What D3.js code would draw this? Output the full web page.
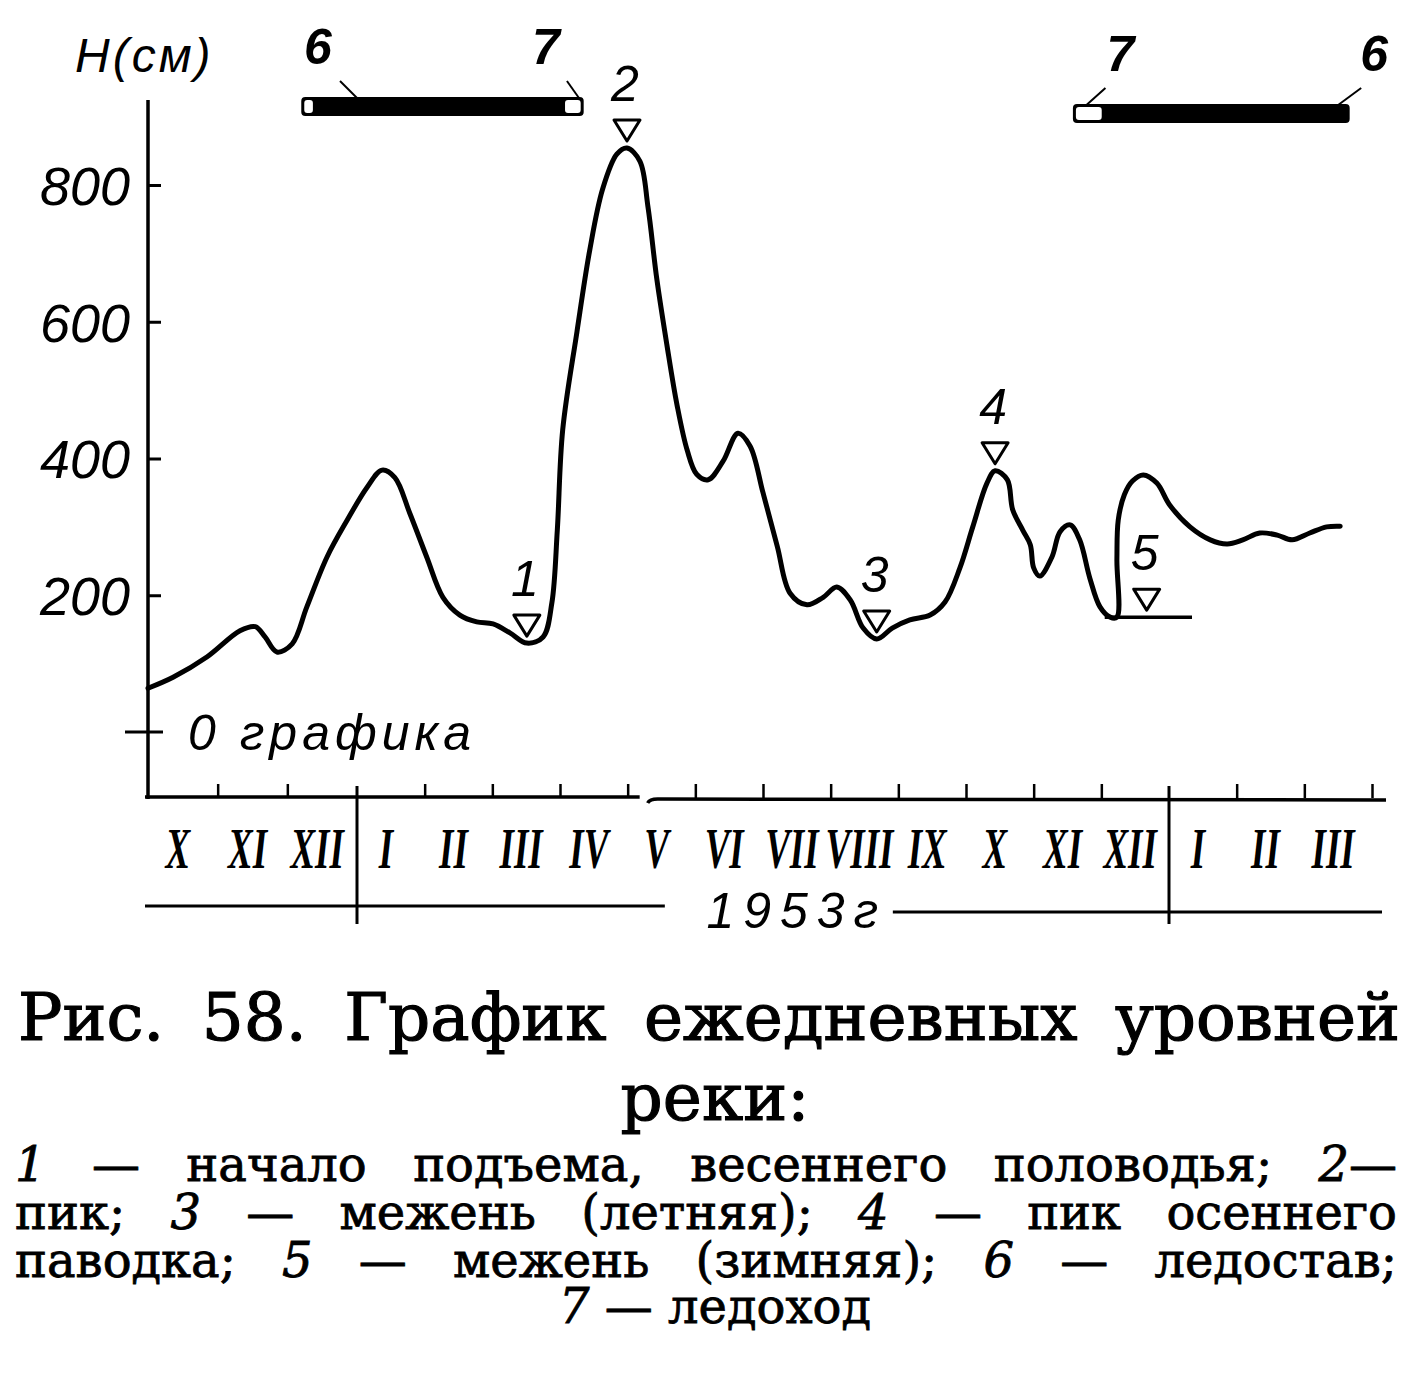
<!DOCTYPE html>
<html><head><meta charset="utf-8">
<script src="https://cdn.jsdelivr.net/npm/d3@7"></script>
<style>body{margin:0;background:#fff} svg{display:block;background:#fff}</style>
</head><body><svg id="c" width="1412" height="1383"></svg>
<script>
// ---------------- DATA ----------------
const monthLabels = ["X","XI","XII","I","II","III","IV","V","VI","VII","VIII","IX","X","XI","XII","I","II","III"];
const yearLabel = "1953г";
const yTickValues = [200, 400, 600, 800];
const yAxisTitle = "H(см)";
const zeroLabel = "0 графика";
// level curve: months since 1 Oct 1952, water level in cm
const levelMonths = [0,0.36,0.85,1.32,1.54,1.68,1.85,2.07,2.28,2.57,
  2.86,3.15,3.37,3.56,3.78,4.03,4.27,4.52,4.77,5.01,
  5.26,5.51,5.75,5.88,5.96,6.04,6.25,6.44,6.63,6.84,
  6.99,7.18,7.30,7.43,7.58,7.73,7.88,8.02,8.19,8.41,
  8.63,8.81,9.0,9.21,9.40,9.65,9.89,10.09,10.29,10.48,
  10.68,10.91,11.17,11.47,11.69,11.91,12.10,12.31,12.43,12.61,
  12.69,12.84,12.95,13.00,13.09,13.27,13.39,13.54,13.68,13.83,
  13.98,14.13,14.23,14.23,14.25,14.34,14.46,14.62,14.82,15.01,
  15.31,15.61,15.86,16.09,16.34,16.60,16.82,17.08,17.33,17.53];
const levelCm = [64,80,110,148,154,139,117,129,183,256,
  310,358,383,372,320,256,197,171,161,158,
  145,130,139,189,295,442,585,705,794,845,
  854,835,768,663,566,478,412,377,369,396,
  437,418,350,272,203,186,197,212,193,152,
  136,152,164,171,190,240,300,364,382,369,
  325,295,274,240,228,256,293,303,281,225,
  183,168,168,252,310,347,367,376,364,332,
  300,281,275,281,291,288,281,291,300,301];
// characteristic points
const markerIds = ["1","2","3","4","5"];
const markerMonths = [5.51, 6.99, 10.68, 12.43, 14.67];
const markerCm = [130, 854, 136, 382, 168];
// winter low-water level line
const winterLowCm = 168;
const winterLowSpan = [14.05, 15.34];
// ice phenomena (months), per winter season (0 = 1952-53, 1 = 1953-54)
const iceDriftStart = [2.20, 6.03, 13.58];
const iceDriftEnd   = [2.41, 6.35, 14.05];
const iceDriftSeason = [0, 0, 1];
const iceCoverStart = [2.41, 14.05];
const iceCoverEnd   = [6.03, 17.67];
const iceCoverSeason = [0, 1];
const iceNoteIds = ["6", "7", "7", "6"];
const iceNoteMonths = [3.0, 6.28, 13.78, 17.5];
const iceNoteSeason = [0, 0, 1, 1];

const captionTitle = ["Рис.", "58.", "График", "ежедневных", "уровней"];
const captionTitle2 = "реки:";
const legendLines = [
  [[["1",1]],[["—",0]],[["начало",0]],[["подъема,",0]],[["весеннего",0]],[["половодья;",0]],[["2",1],["—",0]]],
  [[["пик;",0]],[["3",1]],[["—",0]],[["межень",0]],[["(летняя);",0]],[["4",1]],[["—",0]],[["пик",0]],[["осеннего",0]]],
  [[["паводка;",0]],[["5",1]],[["—",0]],[["межень",0]],[["(зимняя);",0]],[["6",1]],[["—",0]],[["ледостав;",0]]]
];
const legendLast = [["7",1],[" — ледоход",0]];

// ---------------- DRAW ----------------
const svg = d3.select("#c");
const HAND = "'Liberation Sans','DejaVu Sans',sans-serif";
const SERIF = "'Liberation Serif','DejaVu Serif',serif";
const BOOK = "'DejaVu Serif','Liberation Serif',serif";

const x = d3.scaleLinear().domain([0, 3, 15, 18]).range([148, 357, 1169, 1372]);
const y = d3.scaleLinear().domain([0, 800]).range([732, 185]);
const axisY = 798;

// y axis line
svg.append("line").attr("x1", x(0)).attr("x2", x(0)).attr("y1", 100).attr("y2", axisY + 1)
  .attr("stroke", "#000").attr("stroke-width", 3.5);

const yAxis = d3.axisLeft(y).tickValues(yTickValues).tickSizeInner(-13).tickSizeOuter(0)
  .tickPadding(18).tickFormat(d3.format("d"));
const gy = svg.append("g").attr("transform", `translate(${x(0)},0)`).call(yAxis);
gy.select(".domain").remove();
gy.selectAll(".tick line").attr("stroke", "#000").attr("stroke-width", 3);
gy.selectAll(".tick text").attr("font-family", HAND).attr("font-style", "italic")
  .attr("font-size", 54).attr("fill", "#000").attr("dy", "0.36em");

// zero tick crossing axis
svg.append("line").attr("x1", x(0) - 23).attr("x2", x(0) + 15).attr("y1", y(0)).attr("y2", y(0))
  .attr("stroke", "#000").attr("stroke-width", 3);
svg.append("text").attr("x", x(0) + 40).attr("y", y(0) + 18).text(zeroLabel)
  .attr("font-family", HAND).attr("font-style", "italic").attr("font-size", 50)
  .attr("letter-spacing", 5).attr("fill", "#000");

svg.append("text").attr("x", 75).attr("y", 72).text(yAxisTitle)
  .attr("font-family", HAND).attr("font-style", "italic").attr("font-size", 48)
  .attr("letter-spacing", 3).attr("fill", "#000");

// x axis line (with small break between IV and V)
svg.append("line").attr("x1", x(0) - 3).attr("x2", x(7) + 12).attr("y1", axisY - 1).attr("y2", axisY - 1)
  .attr("stroke", "#000").attr("stroke-width", 3.5);
svg.append("path").attr("d", `M${x(7) + 20},${axisY + 5} Q${x(7) + 22},${axisY + 1} ${x(7) + 30},${axisY + 1} L${x(18) + 14},${axisY + 2}`)
  .attr("fill", "none").attr("stroke", "#000").attr("stroke-width", 3.5);

const xAxis = d3.axisTop(x).tickValues(d3.range(1, 19).filter(d => d !== 3 && d !== 15))
  .tickSizeInner(14).tickSizeOuter(0).tickFormat("");
const gx = svg.append("g").attr("transform", `translate(0,${axisY})`).call(xAxis);
gx.select(".domain").remove();
gx.selectAll(".tick line").attr("stroke", "#000").attr("stroke-width", 2.5);

// year dividers
[3, 15].forEach(m => {
  svg.append("line").attr("x1", x(m)).attr("x2", x(m)).attr("y1", axisY - 12).attr("y2", axisY + 126)
    .attr("stroke", "#000").attr("stroke-width", 3);
});

// month labels
svg.selectAll("text.ml").data(monthLabels).join("text").attr("class", "ml")
  .attr("transform", (d, i) => `translate(${x(i + 0.5) - 5},${axisY + 70}) scale(0.66,1)`)
  .attr("text-anchor", "middle").attr("font-family", SERIF).attr("font-style", "italic")
  .attr("font-weight", "bold").attr("font-size", 56).attr("fill", "#000").text(d => d);

// year baseline with label
const yc = x(9.5);
svg.append("line").attr("x1", x(0) - 3).attr("x2", yc - 132).attr("y1", axisY + 108).attr("y2", axisY + 108)
  .attr("stroke", "#000").attr("stroke-width", 3);
svg.append("line").attr("x1", yc + 96).attr("x2", x(18) + 10).attr("y1", axisY + 114).attr("y2", axisY + 114)
  .attr("stroke", "#000").attr("stroke-width", 3);
svg.append("text").attr("x", yc).attr("y", axisY + 130).attr("text-anchor", "middle").text(yearLabel)
  .attr("font-family", HAND).attr("font-style", "italic").attr("font-size", 50)
  .attr("letter-spacing", 9).attr("fill", "#000");

// winter low-water line
svg.append("line").attr("x1", x(winterLowSpan[0])).attr("x2", x(winterLowSpan[1]))
  .attr("y1", y(winterLowCm)).attr("y2", y(winterLowCm)).attr("stroke", "#000").attr("stroke-width", 3.5);

// level curve
const pts = levelMonths.map((m, i) => ({ m, h: levelCm[i] }));
const line = d3.line().x(d => x(d.m)).y(d => y(d.h)).curve(d3.curveCatmullRom.alpha(0.5));
svg.append("path").attr("d", line(pts)).attr("fill", "none").attr("stroke", "#000")
  .attr("stroke-width", 5).attr("stroke-linejoin", "round").attr("stroke-linecap", "round");

// markers
markerIds.forEach((id, i) => {
  const px = x(markerMonths[i]), py = y(markerCm[i]);
  svg.append("path").attr("d", `M${px - 13},${py - 28} L${px + 13},${py - 28} L${px},${py - 7} Z`)
    .attr("fill", "#fff").attr("stroke", "#000").attr("stroke-width", 3).attr("stroke-linejoin", "round");
  svg.append("text").attr("x", px - 2).attr("y", py - 47).attr("text-anchor", "middle").text(id)
    .attr("font-family", HAND).attr("font-style", "italic").attr("font-size", 50).attr("fill", "#000");
});

// ice bars
const barTop = [97, 104], barH = 19;
[0, 1].forEach(s => {
  const starts = iceDriftStart.filter((d, i) => iceDriftSeason[i] === s).concat(iceCoverStart.filter((d, i) => iceCoverSeason[i] === s));
  const ends = iceDriftEnd.filter((d, i) => iceDriftSeason[i] === s).concat(iceCoverEnd.filter((d, i) => iceCoverSeason[i] === s));
  const x0 = x(d3.min(starts)), x1 = x(d3.max(ends));
  svg.append("rect").attr("x", x0).attr("y", barTop[s]).attr("width", x1 - x0).attr("height", barH)
    .attr("rx", 4).attr("fill", "#000");
});
iceDriftStart.forEach((a, i) => {
  const s = iceDriftSeason[i];
  svg.append("rect").attr("x", x(a) + 3).attr("y", barTop[s] + 3).attr("width", x(iceDriftEnd[i]) - x(a) - 6)
    .attr("height", barH - 6).attr("rx", 3).attr("fill", "#fff");
});
// ice notes (leaders + numbers)
const noteDx = [-17, -12, 19, 23];
const noteLdx = [-22, -21, 15, 13];
iceNoteIds.forEach((id, i) => {
  const s = iceNoteSeason[i];
  const ax = x(iceNoteMonths[i]), ay = barTop[s] + 1;
  const bx = ax + noteDx[i], by = ay - 17;
  svg.append("line").attr("x1", ax).attr("y1", ay).attr("x2", bx).attr("y2", by)
    .attr("stroke", "#000").attr("stroke-width", 2);
  svg.append("text").attr("x", bx + noteLdx[i]).attr("y", by - 17).attr("text-anchor", "middle").text(id)
    .attr("font-family", HAND).attr("font-style", "italic").attr("font-weight", "bold")
    .attr("font-size", 50).attr("fill", "#000");
});

// ---------------- CAPTION ----------------
function styleSerif(t, size) {
  t.attr("font-family", BOOK).attr("font-size", size).attr("fill", "#000")
    .attr("stroke", "#000").attr("stroke-width", size > 60 ? 1.2 : 0.8);
}
function justify(words, x0, x1, base, size) {
  const nodes = words.map(segs => {
    const t = svg.append("text").attr("y", base);
    styleSerif(t, size);
    segs.forEach(([s, it]) => t.append("tspan").text(s).attr("font-style", it ? "italic" : "normal"));
    return t;
  });
  const widths = nodes.map(n => n.node().getComputedTextLength());
  const gap = (x1 - x0 - d3.sum(widths)) / (nodes.length - 1);
  let cx = x0;
  nodes.forEach((n, i) => { n.attr("x", cx); cx += widths[i] + gap; });
}
justify(captionTitle.map(w => [[w, 0]]), 18, 1400, 1040, 66);
{
  const t = svg.append("text").attr("x", 715).attr("y", 1120).attr("text-anchor", "middle").text(captionTitle2);
  styleSerif(t, 66);
}
const legendBase = [1181, 1229, 1277];
legendLines.forEach((ln, i) => justify(ln, 15, 1397, legendBase[i], 48));
{
  const t = svg.append("text").attr("x", 715).attr("y", 1323).attr("text-anchor", "middle");
  styleSerif(t, 48);
  legendLast.forEach(([s, it]) => t.append("tspan").text(s).attr("font-style", it ? "italic" : "normal"));
}
</script></body></html>
